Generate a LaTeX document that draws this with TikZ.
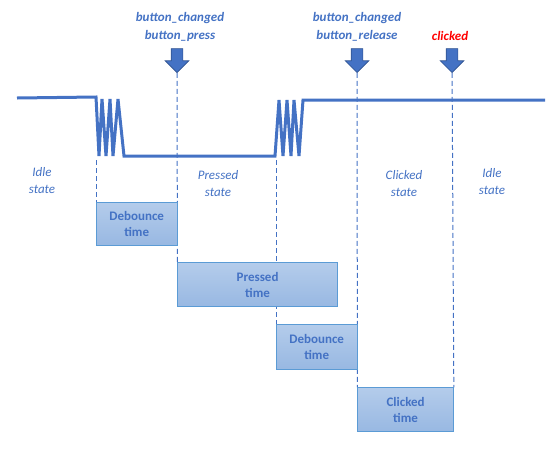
\documentclass[tikz,border=0pt]{standalone}
\usepackage{fontspec}
\setmainfont{Carlito}
\usepackage{tikz}
\usetikzlibrary{arrows,shapes,positioning,backgrounds}
\definecolor{sigblue}{HTML}{4472C4}
\definecolor{boxedge}{HTML}{5B9BD5}
\definecolor{boxtop}{HTML}{B4CCEB}
\definecolor{boxbot}{HTML}{98B8E2}
\definecolor{arrowedge}{HTML}{2F528F}

\begin{document}
\begin{tikzpicture}[x=1pt,y=-1pt,semithick,
	every node/.style={text=sigblue,font=\fontsize{13}{17}\selectfont},
	event/.style={align=center,font=\fontsize{13}{18}\selectfont\bfseries\itshape},
	statelbl/.style={align=center,font=\fontsize{13}{17}\selectfont\itshape},
	timebox/.style={draw=boxedge,thin,top color=boxtop,bottom color=boxbot,anchor=north west,inner sep=0pt,align=center,font=\fontsize{13}{16}\selectfont\bfseries},
	downarrow/.style={single arrow,draw=arrowedge,fill=sigblue,rotate=-90,minimum height=24pt,minimum width=23pt,single arrow head extend=6pt,inner sep=5.5pt,anchor=tip},
	dashline/.style={draw=sigblue,line width=1pt,dash pattern=on 5pt off 3pt}]
			\useasboundingbox (0,0) rectangle (551,448);

			% button signal with bouncing
			\draw[sigblue,line width=3pt] (17,98) -- (96,97) -- (99,156) -- (102,99) -- (106,156) -- (110,99) -- (113,156) -- (118,99) -- (124,156) -- (275,156) -- (279,100) -- (283,156) -- (287,100) -- (291,156) -- (294,100) -- (299,156) -- (303,100) -- (545,100);
			\coordinate (bounce1) at (96,160);
			\coordinate (bounce2) at (276,160);

			\node[event] (lblPress)   at (180,27) {button\_changed\\button\_press};
			\node[event] (lblRelease) at (357,27) {button\_changed\\button\_release};
			\node[event,text=red] (lblClicked) at (450,36) {clicked};

			\node[downarrow] (arrPress)   at (177,73) {};
			\node[downarrow] (arrRelease) at (357,73) {};
			\node[downarrow] (arrClicked) at (452,73) {};

			\node[statelbl] (idle1)     at (42,181)  {Idle\\state};
			\node[statelbl] (pressedst) at (218,184) {Pressed\\state};
			\node[statelbl] (clickedst) at (404,184) {Clicked\\state};
			\node[statelbl] (idle2)     at (492,182) {Idle\\state};

			\node[timebox,minimum width=81pt,minimum height=43pt] (deb1) at (96,202) {Debounce\\time};
			\node[timebox,minimum width=160pt,minimum height=44pt] (presstime) at ([yshift=-17pt]deb1.south east) {Pressed\\time};
			\node[timebox,minimum width=81pt,minimum height=45pt] (deb2) at (276,324) {Debounce\\time};
			\node[timebox,minimum width=96pt,minimum height=44pt] (clicktime) at ([yshift=-18pt]deb2.south east) {Clicked\\time};

			% dashed markers go behind the boxes
			\begin{pgfonlayer}{background}
			\path
			(bounce1)    edge[dashline] (deb1.north west)
			(arrPress)   edge[dashline] (presstime.north west)
			(bounce2)    edge[dashline] (deb2.north west)
			(arrRelease) edge[dashline] (clicktime.north west)
			(arrClicked) edge[dashline] (clicktime.north east);
			\end{pgfonlayer}
			\end{tikzpicture}
\end{document}
